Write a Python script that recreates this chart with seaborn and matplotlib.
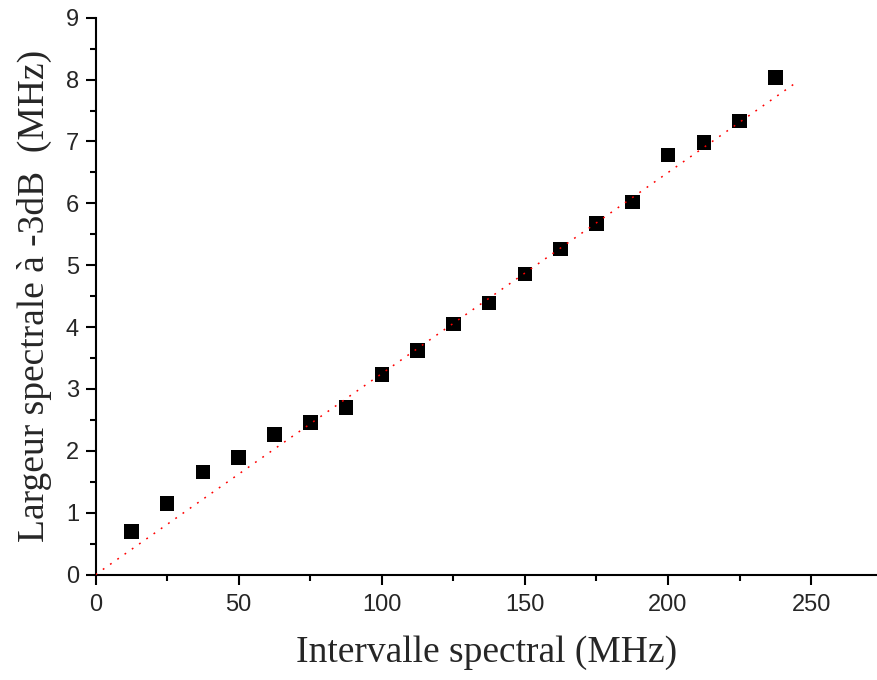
import matplotlib
matplotlib.use('Agg')
import matplotlib.pyplot as plt
import seaborn as sns
import pandas as pd
from matplotlib.ticker import MultipleLocator

# measured points
intervalle = [12.5, 25, 37.5, 50, 62.5, 75, 87.5, 100, 112.5, 125, 137.5, 150,
              162.5, 175, 187.5, 200, 212.5, 225, 237.5]
largeur = [0.70, 1.15, 1.66, 1.89, 2.26, 2.46, 2.70, 3.23, 3.62, 4.05, 4.39, 4.86,
           5.26, 5.67, 6.02, 6.78, 6.98, 7.33, 8.03]

# linear reference line
fit_x = [0, 245]
fit_y = [0, 7.96]

df = pd.DataFrame({'x': intervalle, 'y': largeur})
fit_df = pd.DataFrame({'x': fit_x, 'y': fit_y})

sns.set_style('ticks')
plt.rcParams['font.family'] = ['Liberation Sans', 'DejaVu Sans']

fig = plt.figure(figsize=(8.77, 6.8), dpi=100)
ax = fig.add_axes([0.109, 0.155, 0.891, 0.819])

sns.lineplot(data=fit_df, x='x', y='y', ax=ax, color='red', linewidth=1.1,
             linestyle=(0, (1.2, 4.6)), zorder=3)
sns.scatterplot(data=df, x='x', y='y', ax=ax, marker='s', s=110, color='black',
                edgecolor='none', zorder=2)

ax.set_xlim(0, 273)
ax.set_ylim(0, 9)
ax.xaxis.set_major_locator(MultipleLocator(50))
ax.xaxis.set_minor_locator(MultipleLocator(25))
ax.yaxis.set_major_locator(MultipleLocator(1))
ax.yaxis.set_minor_locator(MultipleLocator(0.5))
ax.tick_params(which='major', direction='out', length=7, width=1.5, labelsize=17, color='black')
ax.tick_params(axis='x', which='major', pad=7)
ax.tick_params(axis='y', which='major', pad=5)
ax.tick_params(which='minor', direction='out', length=4, width=1.5, color='black')

sns.despine(ax=ax)
for s in ['left', 'bottom']:
    ax.spines[s].set_linewidth(1.5)
    ax.spines[s].set_color('black')

ax.set_xlabel('Intervalle spectral (MHz)', fontfamily='Liberation Serif', fontsize=27, labelpad=14)
ax.set_ylabel('Largeur spectrale à -3dB  (MHz)', fontfamily='Liberation Serif', fontsize=27, labelpad=10)

fig.savefig('out.png', dpi=100)
